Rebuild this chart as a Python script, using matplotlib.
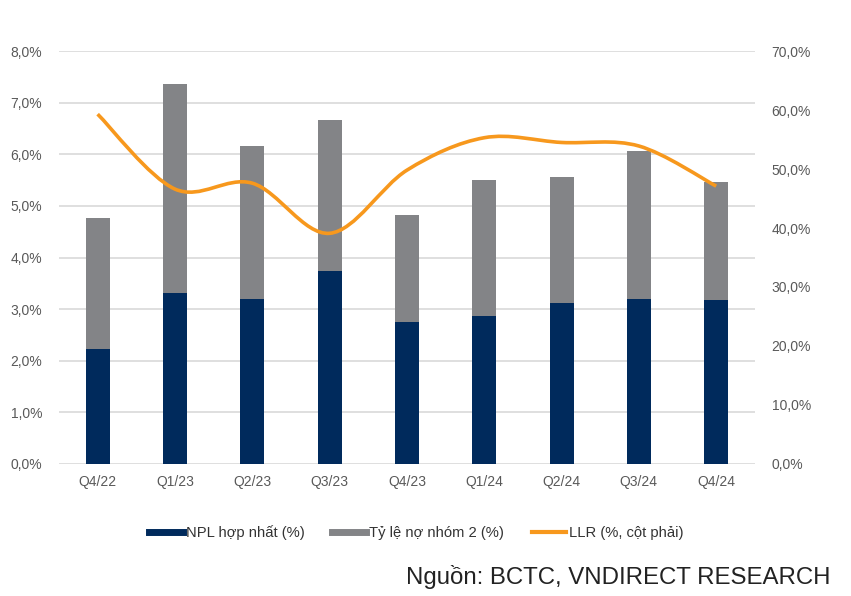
import numpy as np
import matplotlib.pyplot as plt
from matplotlib.path import Path
from matplotlib.patches import PathPatch
from matplotlib.lines import Line2D
from matplotlib.ticker import FuncFormatter

plt.rcParams['font.family'] = ['Liberation Sans', 'DejaVu Sans']

quarters = ['Q4/22', 'Q1/23', 'Q2/23', 'Q3/23', 'Q4/23', 'Q1/24', 'Q2/24', 'Q3/24', 'Q4/24']
npl = [2.23, 3.32, 3.19, 3.74, 2.75, 2.87, 3.12, 3.19, 3.17]
nhom2 = [2.53, 4.04, 2.97, 2.93, 2.08, 2.63, 2.43, 2.87, 2.29]
llr = [59.3, 46.6, 47.6, 39.1, 49.8, 55.3, 54.5, 53.9, 47.1]

navy = '#002A5C'
grey = '#838487'
orange = '#F7981D'
txt = '#595959'

fig = plt.figure(figsize=(8.51, 5.96), dpi=100)
ax1 = fig.add_axes([0.0693, 0.2215, 0.8177, 0.6929])
ax2 = ax1.twinx()

x = np.arange(len(quarters))
ax1.bar(x, npl, width=0.31, color=navy, zorder=2)
ax1.bar(x, nhom2, width=0.31, bottom=npl, color=grey, zorder=2)

ax1.set_xlim(-0.5, len(quarters) - 0.5)
ax1.set_ylim(0, 8)
ax1.set_yticks(np.arange(0, 8.01, 1))
ax1.yaxis.set_major_formatter(FuncFormatter(lambda v, p: f'{v:.1f}%'.replace('.', ',')))
ax1.grid(axis='y', color='#D9D9D9', linewidth=1.2, zorder=0)
ax1.set_axisbelow(True)
ax1.set_xticks(x)
ax1.set_xticklabels(quarters)

ax2.set_ylim(0, 70)
ax2.set_yticks(np.arange(0, 70.1, 10))
ax2.yaxis.set_major_formatter(FuncFormatter(lambda v, p: f'{v:.1f}%'.replace('.', ',')))

# smoothed line (Catmull-Rom -> cubic Bezier)
pts = np.column_stack([x, llr]).astype(float)
verts = [tuple(pts[0])]
codes = [Path.MOVETO]
n = len(pts)
for i in range(n - 1):
    p0 = pts[i - 1] if i > 0 else pts[i]
    p1, p2 = pts[i], pts[i + 1]
    p3 = pts[i + 2] if i + 2 < n else pts[i + 1]
    c1 = p1 + (p2 - p0) / 6.0
    c2 = p2 - (p3 - p1) / 6.0
    verts += [tuple(c1), tuple(c2), tuple(p2)]
    codes += [Path.CURVE4] * 3
ax2.add_patch(PathPatch(Path(verts, codes), fill=False, edgecolor=orange,
                        linewidth=2.6, capstyle='butt', zorder=3))

for ax in (ax1, ax2):
    for s in ax.spines.values():
        s.set_visible(False)
    ax.tick_params(length=0, labelsize=10, labelcolor=txt)
ax1.tick_params(axis='y', pad=12)
ax1.tick_params(axis='x', pad=8)
ax2.tick_params(axis='y', pad=12)

handles = [Line2D([], [], color=navy, linewidth=5),
           Line2D([], [], color=grey, linewidth=5),
           Line2D([], [], color=orange, linewidth=3)]
labels = ['NPL hợp nhất (%)', 'Tỷ lệ nợ nhóm 2 (%)', 'LLR (%, cột phải)']
fig.legend(handles, labels, loc='center', bbox_to_anchor=(0.489, 0.106), ncol=3,
           frameon=False, fontsize=10.6, handlelength=2.3, handletextpad=0.2,
           columnspacing=1.9, labelcolor='#333333')

fig.text(0.976, 0.032, 'Nguồn: BCTC, VNDIRECT RESEARCH', ha='right', va='center',
         fontsize=17.3, color='#222222')

fig.savefig('out.png', dpi=100)
